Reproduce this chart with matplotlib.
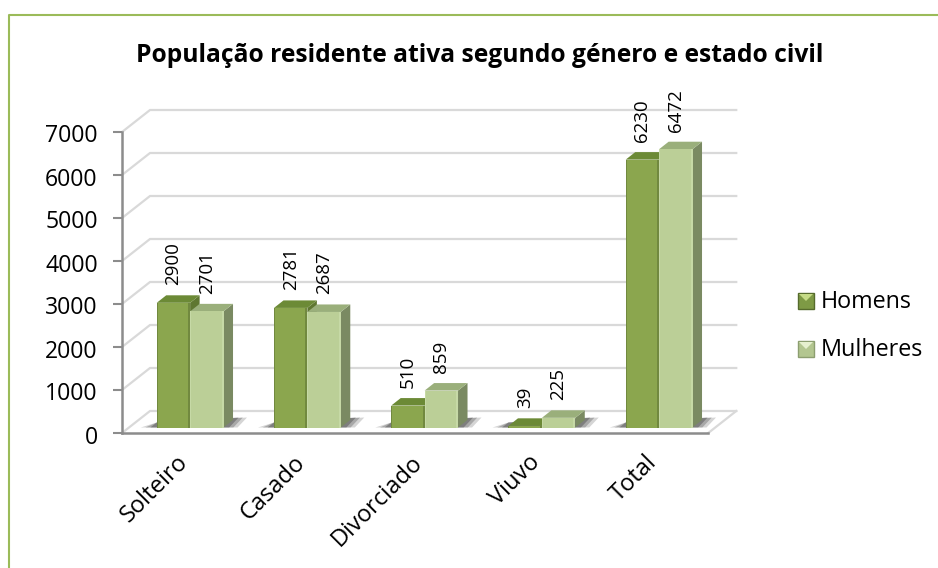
"""Populacao residente ativa - fake 3D clustered bars drawn on a flat axes."""
import matplotlib
matplotlib.use("Agg")
import matplotlib.pyplot as plt
from matplotlib.patches import Polygon, Rectangle
from matplotlib.transforms import Affine2D

plt.rcParams["font.family"] = ["Open Sans", "DejaVu Sans"]

W, H = 938, 568

categories = ["Solteiro", "Casado", "Divorciado", "Viuvo", "Total"]
homens = [2900, 2781, 510, 39, 6230]
mulheres = [2701, 2687, 859, 225, 6472]
yticks = [0, 1000, 2000, 3000, 4000, 5000, 6000, 7000]
title = "População residente ativa segundo género e estado civil"

FRAME = "#9BBB59"
GRID = "#D9D9D9"
AXIS = "#8C8C8C"
# front / top / side / edge for each series
H_COLS = ("#8BA64E", "#6C8A36", "#5F7731", "#71893F")
M_COLS = ("#BBCF97", "#9AAF7B", "#7A8A62", "#C6D9A6")

fig = plt.figure(figsize=(W / 100, H / 100), dpi=100, facecolor="white")


def fx(x):
    return x / W


def fy(y):
    return 1 - y / H


# axes box = front plane of the chart
L, R, T, B = 122, 708.25, 132, 433
ax = fig.add_axes([fx(L), fy(B), (R - L) / W, (B - T) / H])
ax.set_xlim(-0.5, 4.5)
ax.set_ylim(0, 7000)
ax.patch.set_alpha(0)

ux = (R - L) / 5       # px per category
uy = (B - T) / 7000    # px per unit

# 3D offsets, in data units
WALL_X, WALL_Y = 28 / ux, 22 / uy
DEPTH_X, DEPTH_Y = 9.5 / ux, 7.5 / uy
SHIFT = 9.5 / ux
BASE = 5.5 / uy
BAR_W = 33.4 / ux

# back wall and floor
for t in yticks:
    ax.plot([-0.5, -0.5 + WALL_X, 4.5 + WALL_X], [t, t + WALL_Y, t + WALL_Y],
            color=GRID, lw=1.6, clip_on=False, zorder=1, solid_joinstyle="miter")
ax.plot([4.5, 4.5 + WALL_X], [0, WALL_Y], color=GRID, lw=1.6, clip_on=False, zorder=1)

for s in ["top", "right"]:
    ax.spines[s].set_visible(False)
for s in ["left", "bottom"]:
    ax.spines[s].set_color(AXIS)
    ax.spines[s].set_linewidth(1.8)
    ax.spines[s].set_zorder(2)
ax.set_xticks([])
ax.set_yticks(yticks)
ax.tick_params(axis="y", length=6.5, width=1.5, color=AXIS, pad=11, labelsize=16.6,
               labelcolor="black")
for lbl in ax.get_yticklabels():
    lbl.set_transform(lbl.get_transform() + Affine2D().translate(0, -1.5))

xpos = [i + SHIFT for i in range(len(categories))]
h_bars = ax.bar([x - BAR_W / 2 for x in xpos], homens, BAR_W, bottom=BASE,
                color=H_COLS[0], zorder=4, clip_on=False)
m_bars = ax.bar([x + BAR_W / 2 for x in xpos], mulheres, BAR_W, bottom=BASE,
                color=M_COLS[0], zorder=6, clip_on=False)

# floor shadows
for x in xpos:
    x0 = x - BAR_W
    x1 = x + BAR_W
    for grow, a in [(1.0, 0.22), (0.7, 0.3), (0.4, 0.4)]:
        ax.add_patch(Polygon([(x0 - grow * 16 / ux, BASE),
                              (x1 + grow * 14 / ux, BASE),
                              (x1 + DEPTH_X + grow * 14 / ux, BASE + 10 / uy),
                              (x0, BASE + 5 / uy)],
                             closed=True, fc="#404040", ec="none", alpha=a,
                             zorder=3, clip_on=False))


def faces(bars, cols, z):
    for b in bars:
        x0 = b.get_x()
        x1 = x0 + b.get_width()
        y0 = b.get_y()
        y1 = y0 + b.get_height()
        ax.add_patch(Polygon([(x1, y0), (x1 + DEPTH_X, y0 + DEPTH_Y),
                              (x1 + DEPTH_X, y1 + DEPTH_Y), (x1, y1)],
                             closed=True, fc=cols[2], ec="none", zorder=z - 1, clip_on=False))
        ax.add_patch(Polygon([(x0, y1), (x1, y1), (x1 + DEPTH_X, y1 + DEPTH_Y),
                              (x0 + DEPTH_X, y1 + DEPTH_Y)],
                             closed=True, fc=cols[1], ec="none", zorder=z - 1, clip_on=False))
        # bevel along the front edges
        ax.add_patch(Rectangle((x1 - 2 / ux, y0), 2 / ux, y1 - y0, fc=cols[3], ec="none",
                               zorder=z + 1, clip_on=False))
        ax.add_patch(Rectangle((x0, y0), 1 / ux, y1 - y0, fc=cols[3], ec="none",
                               zorder=z + 1, clip_on=False))


faces(h_bars, H_COLS, 4)
faces(m_bars, M_COLS, 6)

# value labels above the bars
for bars, vals in [(h_bars, homens), (m_bars, mulheres)]:
    for b, v in zip(bars, vals):
        ax.text(b.get_x() + b.get_width() / 2, BASE + v + DEPTH_Y + 10 / uy, str(v),
                rotation=90, ha="center", va="bottom", fontsize=13.5, color="black",
                zorder=8, clip_on=False)

# category labels, rotated by hand because of the 45 degree anchor
for i, c in enumerate(categories):
    ax.text(i + 4 / ux, -26 / uy, c, rotation=45, rotation_mode="anchor",
            ha="right", va="center", fontsize=17, color="black", clip_on=False)

fig.text(fx(480), fy(55), title, ha="center", va="center", fontsize=17.7,
         fontweight="bold", color="black")

# legend
for y, col, dark, light, lbl in [(293, "#7E9A45", "#566B2C", "#C5DB86", "Homens"),
                                 (341, "#B3C690", "#8C9E70", "#E6F0CF", "Mulheres")]:
    fig.add_artist(Rectangle((fx(798), fy(y + 16)), 16 / W, 16 / H, fc=col, ec=dark,
                             lw=1.0, transform=fig.transFigure))
    fig.add_artist(Polygon([(fx(799), fy(y + 1)), (fx(813), fy(y + 1)), (fx(806), fy(y + 8))],
                           closed=True, fc=light, ec="none", transform=fig.transFigure))
    fig.text(fx(821), fy(y + 9.5), lbl, ha="left", va="center", fontsize=16.8, color="black")

# outer frame (only left and top edges are in the crop)
fig.add_artist(plt.Line2D([fx(8.5), fx(8.5), fx(W)], [fy(H), fy(14.5), fy(14.5)],
                          color=FRAME, lw=1.5, transform=fig.transFigure))

fig.savefig("out.png", dpi=100, facecolor="white")
